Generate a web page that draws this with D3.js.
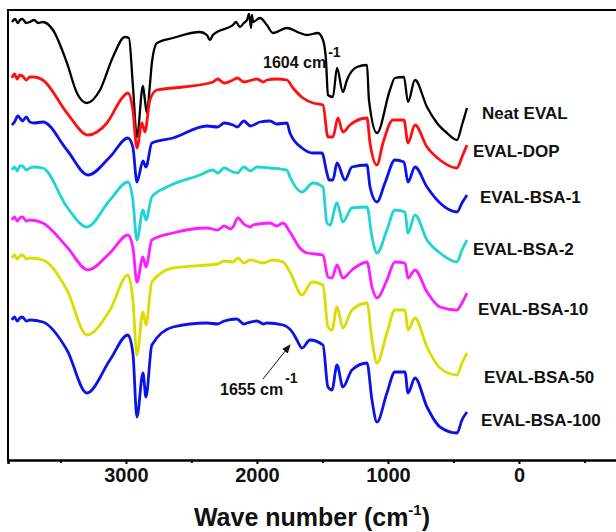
<!DOCTYPE html>
<html>
<head>
<meta charset="utf-8">
<script src="https://cdn.jsdelivr.net/npm/d3@7"></script>
<style>
  body { margin: 0; background: #fff; }
  text { font-family: "Liberation Sans", Arial, sans-serif; font-weight: bold; fill: #111; }
</style>
</head>
<body>
<script>
// wavenumber (cm-1), transmittance offset (a.u.)
var neatEval = [[3870,438],[3845,441],[3825,437],[3809,440],[3790,441],[3760,437],[3733,438],[3700,440],[3670,437],[3634,438],[3557,430],[3450,397],[3374,367],[3298,357],[3198,370],[3099,403],[3008,423],[2977,422],[2947,375],[2916,323],[2870,374],[2855,360],[2840,347],[2817,375],[2802,397],[2763,417],[2641,422],[2435,428],[2382,425],[2359,420],[2336,425],[2305,428],[2183,435],[2160,438],[2130,433],[2100,437],[2076,440],[2060,446],[2045,432],[2038,445],[2030,438],[1977,442],[1924,435],[1878,427],[1771,432],[1672,427],[1618,425],[1534,427],[1496,420],[1473,400],[1458,365],[1420,363],[1389,392],[1344,368],[1313,380],[1237,393],[1160,395],[1145,360],[1084,327],[985,370],[947,382],[878,383],[847,358],[794,380],[702,353],[626,337],[550,327],[473,320],[435,335],[397,352]];
var evalDop = [[3870,382],[3850,386],[3830,381],[3809,385],[3790,384],[3760,380],[3733,383],[3700,383],[3634,380],[3450,347],[3290,325],[3145,337],[3023,363],[2985,367],[2947,350],[2916,312],[2878,337],[2855,328],[2817,360],[2763,370],[2565,373],[2336,378],[2300,381],[2250,377],[2183,380],[2150,382],[2100,378],[2000,381],[1950,378],[1924,380],[1850,381],[1771,380],[1725,372],[1649,362],[1572,357],[1496,355],[1458,323],[1420,323],[1382,342],[1344,328],[1290,335],[1160,342],[1137,317],[1084,295],[1038,317],[962,340],[878,340],[847,317],[794,335],[702,313],[603,300],[473,292],[435,303],[397,315]];
var evalBsa1 = [[3870,335],[3850,338],[3825,344],[3809,342],[3790,339],[3760,343],[3733,338],[3700,337],[3634,338],[3450,310],[3290,285],[3122,303],[2985,322],[2947,313],[2916,278],[2870,299],[2847,293],[2802,317],[2641,322],[2382,334],[2300,333],[2250,337],[2183,335],[2150,333],[2100,339],[2050,334],[1977,338],[1900,339],[1850,336],[1771,337],[1748,327],[1656,312],[1572,307],[1504,307],[1466,287],[1450,280],[1420,280],[1389,297],[1328,280],[1275,293],[1160,295],[1137,273],[1084,258],[1023,277],[947,300],[878,298],[847,278],[794,293],[702,273],[603,257],[473,248],[435,257],[397,265]];
var evalBsa2 = [[3870,290],[3850,293],[3830,289],[3809,294],[3790,294],[3760,290],[3733,292],[3700,293],[3634,292],[3450,253],[3298,233],[3122,260],[2985,278],[2947,260],[2916,220],[2870,250],[2847,240],[2802,263],[2687,273],[2435,285],[2336,290],[2300,287],[2250,292],[2183,288],[2150,287],[2100,293],[2050,289],[2000,293],[1900,292],[1771,290],[1748,283],[1656,268],[1572,277],[1496,273],[1466,237],[1443,235],[1389,257],[1344,238],[1275,252],[1160,253],[1122,223],[1084,207],[1008,230],[947,250],[870,248],[847,227],[794,245],[702,220],[603,207],[473,198],[435,210],[397,220]];
var evalBsa10 = [[3870,240],[3850,243],[3830,239],[3809,242],[3790,243],[3760,239],[3733,240],[3634,237],[3450,213],[3290,190],[3122,207],[2985,225],[2947,213],[2916,178],[2870,203],[2847,193],[2802,220],[2641,227],[2382,232],[2300,230],[2250,234],[2200,231],[2183,233],[2145,242],[2100,236],[2050,233],[2030,235],[1900,237],[1850,234],[1801,237],[1748,228],[1672,212],[1618,207],[1496,205],[1458,183],[1427,182],[1389,195],[1344,182],[1275,190],[1160,198],[1122,173],[1084,162],[1008,180],[947,198],[870,197],[847,182],[794,190],[702,168],[603,153],[473,150],[435,157],[397,167]];
var evalBsa50 = [[3870,202],[3850,205],[3830,201],[3809,204],[3790,205],[3760,201],[3733,202],[3634,200],[3450,170],[3298,125],[3122,150],[2985,185],[2947,160],[2916,105],[2870,148],[2847,135],[2802,178],[2641,192],[2382,195],[2300,196],[2250,199],[2183,198],[2145,202],[2100,197],[2050,200],[1950,197],[1880,200],[1801,198],[1748,188],[1656,165],[1580,178],[1496,175],[1458,133],[1427,130],[1389,153],[1344,132],[1275,150],[1160,157],[1122,120],[1084,97],[1008,127],[947,150],[870,150],[847,130],[794,142],[702,113],[603,92],[473,85],[435,97],[397,107]];
var evalBsa100 = [[3870,140],[3850,143],[3830,139],[3809,142],[3790,143],[3760,139],[3733,140],[3634,138],[3450,110],[3298,67],[3122,100],[2985,125],[2947,107],[2916,43],[2870,87],[2847,63],[2802,115],[2641,133],[2382,137],[2300,136],[2250,139],[2153,141],[2100,136],[2076,137],[2000,139],[1950,136],[1924,137],[1801,135],[1725,127],[1695,120],[1656,112],[1595,120],[1496,115],[1458,73],[1427,70],[1389,95],[1344,73],[1275,90],[1160,97],[1122,60],[1084,38],[1008,67],[947,88],[870,88],[847,67],[794,82],[702,53],[603,33],[473,27],[435,40],[397,48]];

var seriesNames = ["Neat EVAL","EVAL-DOP","EVAL-BSA-1","EVAL-BSA-2","EVAL-BSA-10","EVAL-BSA-50","EVAL-BSA-100"];
var seriesData = [neatEval, evalDop, evalBsa1, evalBsa2, evalBsa10, evalBsa50, evalBsa100];
var colors = ["#000000","#ff1010","#0a14e6","#1ed4d4","#ff1aff","#dcdc00","#0a14e6"];
var majorTicks = [3000, 2000, 1000, 0];
var minorTicks = [3500, 2500, 1500, 500, -500];

var W = 616, H = 532;
var svg = d3.select("body").append("svg").attr("width", W).attr("height", H);

var x = d3.scaleLinear().domain([3900, -1000]).range([8, 650]);
var y = d3.scaleLinear().domain([0, 450]).range([460, 10]);

// curves
var line = d3.line()
      .x(function(d){ return x(d[0]); })
      .y(function(d){ return y(d[1]); })
      .curve(d3.curveMonotoneX);

svg.selectAll("path.spec")
      .data(seriesData)
      .enter().append("path")
            .attr("class","spec")
            .attr("d", line)
            .attr("fill","none")
            .attr("stroke", function(d,i){ return colors[i]; })
            .attr("stroke-width", function(d,i){ return i == 0 ? 2.3 : 2.8; })
            .attr("stroke-linejoin","round");

// frame
svg.append("line").attr("x1",8).attr("y1",10).attr("x2",W).attr("y2",10)
      .attr("stroke","#000").attr("stroke-width",2);
svg.append("line").attr("x1",8).attr("y1",9).attr("x2",8).attr("y2",461)
      .attr("stroke","#000").attr("stroke-width",2);

// x axis
var xAxis = svg.append("g").attr("transform","translate(0,460)")
      .call(d3.axisBottom(x).tickValues(majorTicks).tickSize(4).tickPadding(4).tickFormat(d3.format("d")));
xAxis.select(".domain").attr("stroke-width",2.5);
xAxis.selectAll(".tick line").attr("stroke-width",2);
xAxis.selectAll(".tick text").attr("font-size","20px").attr("font-family","Liberation Sans, Arial, sans-serif").attr("font-weight","bold").attr("fill","#111");
svg.append("g").attr("transform","translate(0,460)")
      .call(d3.axisBottom(x).tickValues(minorTicks).tickSize(3).tickFormat(""))
      .call(function(g){ g.select(".domain").remove(); g.selectAll(".tick line").attr("stroke-width",2); });

// axis title
var title = svg.append("text").attr("x",312).attr("y",526).attr("text-anchor","middle").attr("font-size","25px");
title.append("tspan").text("Wave number (cm");
title.append("tspan").text("-1").attr("font-size","15px").attr("dy",-11);
title.append("tspan").text(")").attr("dy",11);

// series labels
var labelPos = [[482,115],[473,153],[480,199],[473,251],[478,311],[484,379],[481,422]];
svg.selectAll("text.lab")
      .data(seriesNames)
      .enter().append("text")
            .attr("class","lab")
            .attr("x", function(d,i){ return labelPos[i][0]; })
            .attr("y", function(d,i){ return labelPos[i][1]; })
            .attr("dominant-baseline","middle")
            .attr("font-size","17px")
            .text(function(d){ return d; });

// annotations
var a1 = svg.append("text").attr("x",263).attr("y",68).attr("font-size","16px");
a1.append("tspan").text("1604 cm");
a1.append("tspan").text("-1").attr("font-size","14px").attr("dx",2).attr("dy",-11);

var a2 = svg.append("text").attr("x",220).attr("y",395).attr("font-size","16px");
a2.append("tspan").text("1655 cm");
a2.append("tspan").text("-1").attr("font-size","14px").attr("dx",2).attr("dy",-12);

svg.append("defs").append("marker")
      .attr("id","arrow").attr("viewBox","0 0 10 10").attr("refX",9).attr("refY",5)
      .attr("markerWidth",9).attr("markerHeight",9).attr("orient","auto")
      .append("path").attr("d","M0,1 L10,5 L0,9 Z").attr("fill","#111");
svg.append("line").attr("x1",263).attr("y1",379).attr("x2",290).attr("y2",345)
      .attr("stroke","#111").attr("stroke-width",1).attr("marker-end","url(#arrow)");
</script>
</body>
</html>
